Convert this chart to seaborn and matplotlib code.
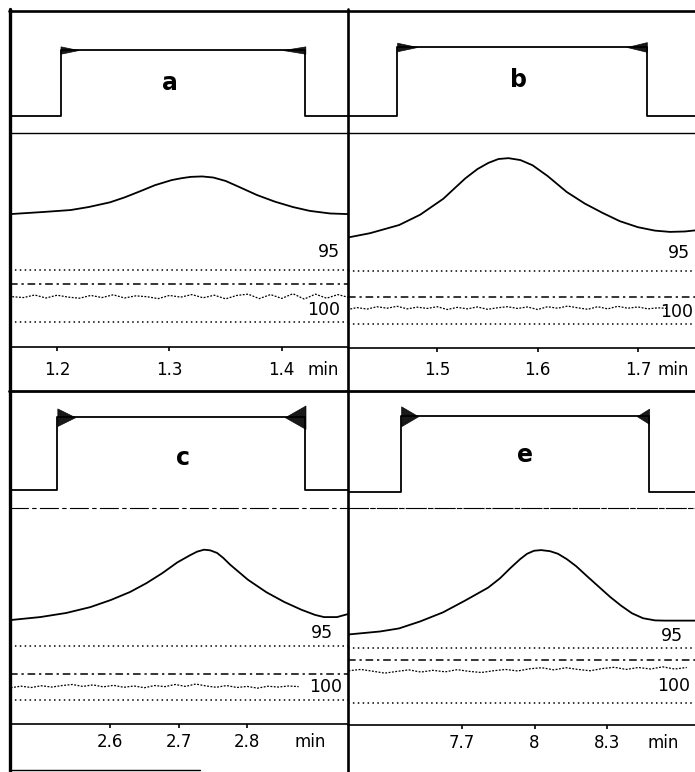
import matplotlib
matplotlib.use("Agg")
import matplotlib.pyplot as plt
from matplotlib.lines import Line2D
import numpy as np
import seaborn as sns

# --- data -----------------------------------------------------------------
# detector trace: time (min) and signal (arbitrary units, 0-100 over the trace box)
a_t = [1.158, 1.188, 1.212, 1.228, 1.247, 1.260, 1.274, 1.287, 1.302, 1.311, 1.319,
       1.329, 1.339, 1.350, 1.362, 1.378, 1.394, 1.410, 1.425, 1.443, 1.459]
a_sig = [62.1, 63.1, 64.0, 65.4, 67.6, 69.9, 72.8, 75.6, 78.0, 78.9, 79.5,
         79.7, 79.2, 77.6, 74.8, 71.0, 67.9, 65.4, 63.6, 62.4, 62.1]

b_t = [1.411, 1.433, 1.462, 1.483, 1.506, 1.518, 1.528, 1.540, 1.551, 1.561, 1.571, 1.583,
       1.595, 1.610, 1.629, 1.647, 1.665, 1.682, 1.700, 1.717, 1.732, 1.747, 1.757]
b_sig = [51.4, 53.4, 57.2, 62.0, 69.4, 74.6, 78.9, 83.2, 86.1, 87.9, 88.3, 87.4,
         85.0, 80.0, 72.6, 67.2, 62.8, 59.0, 56.2, 54.6, 54.0, 54.2, 54.7]

c_t = [2.454, 2.498, 2.536, 2.571, 2.601, 2.629, 2.653, 2.676, 2.698, 2.717, 2.727, 2.737, 2.746,
       2.756, 2.765, 2.775, 2.801, 2.828, 2.854, 2.879, 2.899, 2.912, 2.931, 2.947]
c_sig = [48.1, 49.5, 51.4, 54.1, 57.4, 61.1, 65.2, 69.8, 74.8, 78.2, 79.8, 80.7, 80.4,
         79.2, 76.9, 73.8, 66.8, 61.0, 56.5, 52.9, 50.5, 49.5, 49.5, 50.9]

e_t = [7.228, 7.266, 7.361, 7.439, 7.526, 7.621, 7.712, 7.808, 7.857, 7.899, 7.940, 7.969, 7.998,
       8.027, 8.064, 8.097, 8.134, 8.172, 8.217, 8.263, 8.312, 8.358, 8.403, 8.449, 8.499, 8.540, 8.664]
e_sig = [41.7, 42.1, 43.1, 44.5, 47.7, 51.9, 57.3, 63.3, 67.6, 72.2, 76.4, 78.9, 80.3,
         80.6, 80.1, 78.9, 76.4, 73.2, 68.6, 64.0, 59.1, 55.0, 51.5, 49.2, 48.2, 48.1, 48.1]

# reference levels in the trace box: 95 line, dash-dot line, 100 line
a_levels = [36.0, 29.4, 11.5]
b_levels = [35.7, 23.5, 11.1]
c_levels = [36.3, 23.1, 11.1]
e_levels = [35.5, 30.0, 10.3]

# noisy baseline trace
a_noise_t = [1.16, 1.17, 1.18, 1.19, 1.20, 1.21, 1.22, 1.23, 1.24, 1.25, 1.26, 1.27, 1.28, 1.29, 1.30, 1.31,
             1.32, 1.33, 1.34, 1.35, 1.36, 1.37, 1.38, 1.39, 1.40, 1.41, 1.42, 1.43, 1.44, 1.45, 1.46]
a_noise = [23.5, 23.1, 24.3, 22.9, 24.2, 23.3, 22.8, 24.1, 23.1, 24.4, 22.9, 23.9, 23.5, 22.6, 24.1, 23.3,
           24.5, 23.0, 24.2, 22.5, 24.1, 24.7, 22.6, 24.5, 22.7, 24.9, 22.4, 24.7, 22.8, 24.5, 23.1]
b_noise_t = [1.41, 1.42, 1.43, 1.44, 1.45, 1.46, 1.47, 1.48, 1.49, 1.50, 1.51, 1.52, 1.53, 1.54, 1.55, 1.56, 1.57,
             1.58, 1.59, 1.60, 1.61, 1.62, 1.63, 1.64, 1.65, 1.66, 1.67, 1.68, 1.69, 1.70, 1.71, 1.72, 1.73]
b_noise = [17.8, 18.8, 18.1, 19.2, 18.5, 19.4, 18.2, 19.0, 18.4, 19.2, 17.9, 18.9, 18.2, 19.1, 18.0, 18.7, 19.2,
           18.4, 19.1, 17.9, 19.2, 18.5, 19.5, 18.7, 18.0, 19.2, 18.2, 19.4, 18.5, 19.1, 18.2, 18.7, 18.4]
c_noise_t = [2.455, 2.47, 2.485, 2.5, 2.515, 2.53, 2.545, 2.56, 2.575, 2.59, 2.605, 2.62, 2.635, 2.65, 2.665,
             2.68, 2.695, 2.71, 2.725, 2.74, 2.755, 2.77, 2.785, 2.8, 2.815, 2.83, 2.845, 2.86, 2.875]
c_noise = [16.8, 17.5, 16.9, 17.7, 17.1, 17.8, 18.3, 17.4, 18.1, 17.2, 17.9, 17.0, 17.6, 16.8, 17.8,
           17.3, 18.3, 17.4, 18.5, 17.6, 17.0, 17.8, 16.9, 17.4, 16.6, 17.5, 17.1, 17.6, 17.3]
e_noise_t = [7.23, 7.28, 7.33, 7.38, 7.43, 7.48, 7.53, 7.58, 7.63, 7.68, 7.73, 7.78, 7.83, 7.88, 7.93,
             7.98, 8.03, 8.08, 8.13, 8.18, 8.23, 8.28, 8.33, 8.38, 8.43, 8.48, 8.53, 8.58, 8.63]
e_noise = [25.0, 25.6, 24.8, 23.9, 24.7, 25.4, 24.4, 25.2, 24.5, 25.5, 24.7, 24.2, 25.0, 25.6, 24.9,
           25.9, 26.4, 25.4, 26.4, 25.6, 25.0, 26.0, 26.6, 25.6, 26.5, 25.8, 26.8, 25.8, 26.5]

# injection pulse: rise / fall time (min), low / high level (0-100 over pulse box)
a_pulse = [1.203, 1.421, 13.9, 68.0]
b_pulse = [1.460, 1.709, 13.9, 70.5]
c_pulse = [2.523, 2.885, 15.5, 77.6]
e_pulse = [7.448, 8.474, 13.8, 78.4]
# ringing at the pulse edges: duration (min) and half amplitude, rise then fall
a_ring = [(0.016, 3.0), (0.020, 3.0)]
b_ring = [(0.020, 3.5), (0.020, 4.0)]
c_ring = [(0.026, 7.5), (0.030, 10.0)]
e_ring = [(0.070, 8.5), (0.050, 6.5)]

# time axis
a_ticks, a_labels = [1.2, 1.3, 1.4], ["1.2", "1.3", "1.4"]
b_ticks, b_labels = [1.5, 1.6, 1.7], ["1.5", "1.6", "1.7"]
c_ticks, c_labels = [2.6, 2.7, 2.8], ["2.6", "2.7", "2.8"]
e_ticks, e_labels = [7.7, 8.0, 8.3], ["7.7", "8", "8.3"]

a_xlim = (1.158, 1.459)
b_xlim = (1.411, 1.757)
c_xlim = (2.454, 2.947)
e_xlim = (7.228, 8.664)

# --- figure ------------------------------------------------------------------
sns.set_style("white")
plt.rcParams["font.family"] = ["DejaVu Sans"]
plt.rcParams["text.color"] = "black"

W, H = 695, 772
fig = plt.figure(figsize=(W / 100, H / 100), dpi=100)


def box(x0, y0, x1, y1):
    return [x0 / W, 1 - y1 / H, (x1 - x0) / W, (y1 - y0) / H]


def fig_line(x0, y0, x1, y1, lw, **kw):
    fig.add_artist(Line2D([x0 / W, x1 / W], [1 - y0 / H, 1 - y1 / H],
                          transform=fig.transFigure, color="black", lw=lw, **kw))


def clean(ax):
    ax.set_facecolor("none")
    for s in ax.spines.values():
        s.set_visible(False)
    ax.set_xticks([])
    ax.set_yticks([])
    ax.set_xlabel("")
    ax.set_ylabel("")


panels = [
    dict(letter="a", col=(10, 348), rows=(11, 133, 347, 390), t=a_t, sig=a_sig, levels=a_levels,
         nt=a_noise_t, noise=a_noise, pulse=a_pulse, ring=a_ring, ticks=a_ticks, labels=a_labels,
         xlim=a_xlim, letter_pos=(0.473, 0.41), p95=(0.976, 44.4), p100=(0.976, 17.3),
         minx=0.926, laby=0.47, div_ls="-", div_lw=1.0),
    dict(letter="b", col=(348, 695), rows=(11, 133, 348, 390), t=b_t, sig=b_sig, levels=b_levels,
         nt=b_noise_t, noise=b_noise, pulse=b_pulse, ring=b_ring, ticks=b_ticks, labels=b_labels,
         xlim=b_xlim, letter_pos=(0.49, 0.434), p95=(0.986, 44.4), p100=(0.995, 16.8),
         minx=0.937, laby=0.47, div_ls="-", div_lw=1.0),
    dict(letter="c", col=(10, 348), rows=(391, 508, 724, 770), t=c_t, sig=c_sig, levels=c_levels,
         nt=c_noise_t, noise=c_noise, pulse=c_pulse, ring=c_ring, ticks=c_ticks, labels=c_labels,
         xlim=c_xlim, letter_pos=(0.512, 0.43), p95=(0.956, 42.1), p100=(0.982, 17.1),
         minx=0.888, laby=0.61, div_ls=(0, (16, 4, 3, 4)), div_lw=0.8),
    dict(letter="e", col=(348, 695), rows=(391, 508, 725, 770), t=e_t, sig=e_sig, levels=e_levels,
         nt=e_noise_t, noise=e_noise, pulse=e_pulse, ring=e_ring, ticks=e_ticks, labels=e_labels,
         xlim=e_xlim, letter_pos=(0.51, 0.457), p95=(0.965, 41.2), p100=(0.985, 18.1),
         minx=0.908, laby=0.61, div_ls=(0, (18, 2, 4, 2)), div_lw=0.8),
]

for p in panels:
    x0, x1 = p["col"]
    r0, r1, r2, r3 = p["rows"]
    lo, hi = p["xlim"]

    # pulse box
    axp = fig.add_axes(box(x0, r0, x1, r1))
    rise, fall, low, high = p["pulse"]
    px = [lo, rise, rise, fall, fall, hi]
    py = [low, low, high, high, low, low]
    sns.lineplot(x=px, y=py, ax=axp, color="black", lw=1.3, sort=False, estimator=None)
    (d1, a1), (d2, a2) = p["ring"]
    axp.fill_between([rise, rise + d1], [high - a1, high], [high + a1, high],
                     color="black", lw=0.5, alpha=0.9)
    axp.fill_between([fall - d2, fall], [high, high - a2], [high, high + a2],
                     color="black", lw=0.5, alpha=0.9)
    axp.text(*p["letter_pos"], p["letter"], transform=axp.transAxes, ha="center", va="center",
             fontsize=17, fontweight="bold")
    axp.set_xlim(lo, hi)
    axp.set_ylim(0, 100)
    clean(axp)
    axp.spines["bottom"].set_visible(True)
    axp.spines["bottom"].set_linewidth(p["div_lw"])
    axp.spines["bottom"].set_linestyle(p["div_ls"])
    axp.spines["bottom"].set_color("black")

    # trace box
    axt = fig.add_axes(box(x0, r1, x1, r2))
    sns.lineplot(x=p["t"], y=p["sig"], ax=axt, color="black", lw=1.3, estimator=None)
    l95, ldd, l100 = p["levels"]
    axt.axhline(l95, color="black", lw=1.1, ls=(0, (1, 2.2)))
    axt.axhline(ldd, color="black", lw=1.1, ls=(0, (5, 2.5, 1.5, 2.5)))
    axt.axhline(l100, color="black", lw=1.1, ls=(0, (1, 2.2)))
    axt.plot(p["nt"], p["noise"], color="black", lw=0.9, ls=(0, (1.5, 1.2)))
    axt.text(p["p95"][0], p["p95"][1], "95", transform=axt.get_yaxis_transform(),
             ha="right", va="center", fontsize=12.5)
    axt.text(p["p100"][0], p["p100"][1], "100", transform=axt.get_yaxis_transform(),
             ha="right", va="center", fontsize=12.5)
    axt.set_xlim(lo, hi)
    axt.set_ylim(0, 100)
    clean(axt)

    # time strip
    axs = fig.add_axes(box(x0, r2, x1, r3))
    axs.set_xlim(lo, hi)
    axs.set_ylim(0, 1)
    clean(axs)
    axs.spines["top"].set_visible(True)
    axs.spines["top"].set_linewidth(1.2)
    axs.spines["top"].set_color("black")
    axs.xaxis.set_ticks_position("top")
    axs.set_xticks(p["ticks"])
    axs.tick_params(axis="x", direction="in", length=3, width=1.2, labeltop=False, color="black")
    for tv, tl in zip(p["ticks"], p["labels"]):
        axs.text(tv, p["laby"], tl, transform=axs.get_xaxis_transform(),
                 ha="center", va="center", fontsize=12)
    axs.text(p["minx"], p["laby"], "min", transform=axs.transAxes,
             ha="center", va="center", fontsize=12)

# frame
fig_line(10, 9, 10, 772, 2.4)
fig_line(348, 9, 348, 772, 1.9)
fig_line(9, 11, 695, 11, 1.9)
fig_line(9, 391, 695, 391, 2.0)
fig_line(10, 770, 200, 770, 1.0)

fig.savefig("out.png", dpi=100, facecolor="white")
plt.close(fig)
